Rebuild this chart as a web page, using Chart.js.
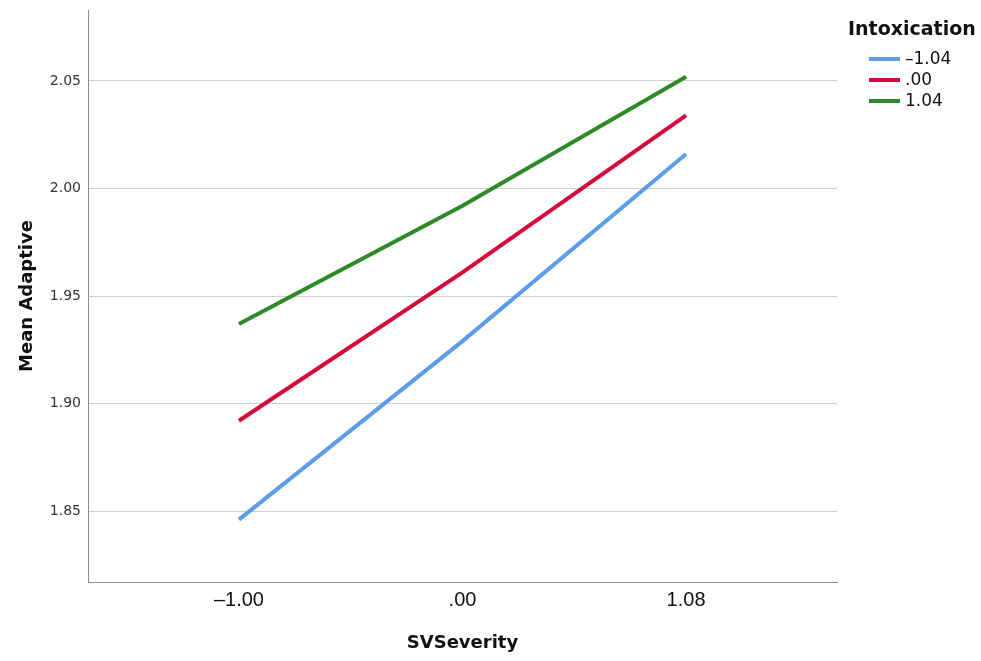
<!DOCTYPE html>
<html>
<head>
<meta charset="utf-8">
<script src="https://cdn.jsdelivr.net/npm/chart.js@4"></script>
<style>
  html, body { margin: 0; padding: 0; background: #fff; }
  #wrap { width: 981px; height: 661px; }
</style>
</head>
<body>
<div id="wrap"><canvas id="chart"></canvas></div>
<script>
// x categories (SVSeverity) and y tick labels
const categories = ['\u20131.00', '.00', '1.08'];
const yTicks = [1.85, 1.90, 1.95, 2.00, 2.05];

// one line per Intoxication level
const seriesNames = ['\u20131.04', '.00', '1.04'];
const lowIntox = [1.846, 1.929, 2.016];
const midIntox = [1.892, 1.961, 2.034];
const highIntox = [1.937, 1.992, 2.052];

const colors = ['#5b9de9', '#d7093c', '#2e8a26'];

function toPoints(values) {
    return values.map((v, i) => ({ x: i, y: v }));
}

// draws the legend at the top right like the SPSS output
const legendPlugin = {
    id: 'spssLegend',
    afterDraw(chart) {
        const ctx = chart.ctx;
        ctx.save();
        ctx.fillStyle = '#111';
        ctx.font = 'bold 19px "DejaVu Sans", sans-serif';
        ctx.textBaseline = 'middle';
        ctx.textAlign = 'left';
        ctx.fillText('Intoxication', 848, 30);
        ctx.font = '17px "DejaVu Sans", sans-serif';
        chart.data.datasets.forEach((ds, i) => {
            const y = 59 + i * 21;
            ctx.strokeStyle = ds.borderColor;
            ctx.lineWidth = 4;
            ctx.beginPath();
            ctx.moveTo(869, y);
            ctx.lineTo(900, y);
            ctx.stroke();
            ctx.fillStyle = '#111';
            ctx.fillText(ds.label, 905, y + 1);
        });
        ctx.restore();
    }
};

const datasets = [lowIntox, midIntox, highIntox].map((vals, i) => ({
    label: seriesNames[i],
    data: toPoints(vals),
    borderColor: colors[i],
    backgroundColor: colors[i],
    borderWidth: 4,
    pointRadius: 0,
    tension: 0
}));

new Chart(document.getElementById('chart'), {
    type: 'line',
    data: { datasets: datasets },
    plugins: [legendPlugin],
    options: {
        responsive: true,
        maintainAspectRatio: false,
        animation: false,
        layout: { padding: { top: 10, right: 144, left: 0, bottom: 0 } },
        plugins: {
            legend: { display: false },
            tooltip: { enabled: false }
        },
        scales: {
            x: {
                type: 'linear',
                min: -0.675,
                max: 2.675,
                afterBuildTicks: s => { s.ticks = categories.map((c, i) => ({ value: i })); },
                afterFit: s => { s.height = 79; s.paddingLeft = 0; s.paddingRight = 0; },
                grid: { display: false, drawTicks: false },
                border: { display: true, color: '#8c8c8c', width: 1 },
                ticks: {
                    padding: 6,
                    color: '#111',
                    font: { size: 20, family: '"Liberation Sans Narrow", "Liberation Sans", Arial, sans-serif' },
                    callback: v => categories[v]
                },
                title: {
                    display: true,
                    text: 'SVSeverity',
                    color: '#111',
                    font: { size: 18, weight: 'bold', family: '"DejaVu Sans", sans-serif' },
                    padding: { top: 0, bottom: 7 }
                }
            },
            y: {
                min: 1.817,
                max: 2.083,
                afterBuildTicks: s => { s.ticks = yTicks.map(v => ({ value: v })); },
                afterFit: s => { s.width = 88; s.paddingTop = 0; s.paddingBottom = 0; },
                grid: { color: '#cfcfcf', lineWidth: 1, drawTicks: false },
                border: { display: true, color: '#8c8c8c', width: 1 },
                ticks: {
                    padding: 7,
                    color: '#333',
                    font: { size: 14, family: '"DejaVu Sans", sans-serif' },
                    callback: v => v.toFixed(2)
                },
                title: {
                    display: true,
                    text: 'Mean Adaptive',
                    color: '#111',
                    font: { size: 18, weight: 'bold', family: '"DejaVu Sans", sans-serif' },
                    padding: { top: 17, bottom: 0 }
                }
            }
        }
    }
});
</script>
</body>
</html>
